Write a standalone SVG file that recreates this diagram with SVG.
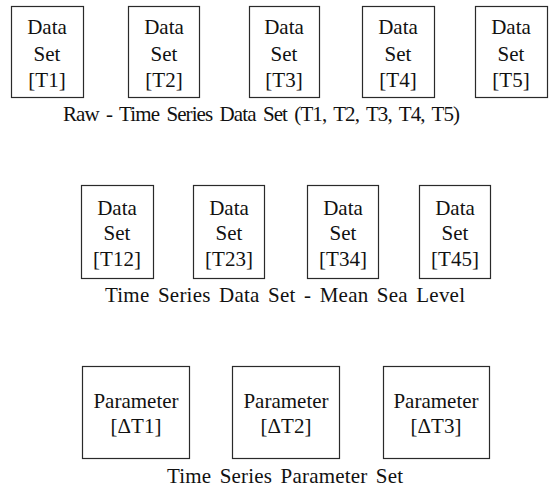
<svg xmlns="http://www.w3.org/2000/svg" width="551" height="489" viewBox="0 0 551 489">
<style>
.box{fill:#fff;stroke:#2a2a2a;stroke-width:1.2}
.t{font-family:"Liberation Serif","Times New Roman",serif;font-size:21px;fill:#111;text-anchor:middle}
.cap{font-family:"Liberation Serif","Times New Roman",serif;font-size:21px;fill:#111;word-spacing:3px}
</style>
<rect width="551" height="489" fill="#fff"/>
<g id="connectors"/>
<g id="T1"><rect class="box" x="11.5" y="6.5" width="72" height="91"/><text class="t" x="47" y="34">Data</text><text class="t" x="47" y="61">Set</text><text class="t" x="47" y="87">[T1]</text></g>
<g id="T2"><rect class="box" x="128.5" y="6.5" width="71" height="91"/><text class="t" x="164" y="34">Data</text><text class="t" x="164" y="61">Set</text><text class="t" x="164" y="87">[T2]</text></g>
<g id="T3"><rect class="box" x="249.5" y="6.5" width="70" height="91"/><text class="t" x="284" y="34">Data</text><text class="t" x="284" y="61">Set</text><text class="t" x="284" y="87">[T3]</text></g>
<g id="T4"><rect class="box" x="362.5" y="6.5" width="72" height="91"/><text class="t" x="398" y="34">Data</text><text class="t" x="398" y="61">Set</text><text class="t" x="398" y="87">[T4]</text></g>
<g id="T5"><rect class="box" x="475.5" y="6.5" width="72" height="91"/><text class="t" x="511" y="34">Data</text><text class="t" x="511" y="61">Set</text><text class="t" x="511" y="87">[T5]</text></g>
<text class="cap" x="63" y="121" textLength="397" lengthAdjust="spacing">Raw - Time Series Data Set (T1, T2, T3, T4, T5)</text>

<g id="T12"><rect class="box" x="81.5" y="185.5" width="72" height="93"/><text class="t" x="117" y="215">Data</text><text class="t" x="117" y="240">Set</text><text class="t" x="117" y="266">[T12]</text></g>
<g id="T23"><rect class="box" x="193.5" y="185.5" width="71" height="93"/><text class="t" x="229" y="215">Data</text><text class="t" x="229" y="240">Set</text><text class="t" x="229" y="266">[T23]</text></g>
<g id="T34"><rect class="box" x="307.5" y="185.5" width="71" height="93"/><text class="t" x="343" y="215">Data</text><text class="t" x="343" y="240">Set</text><text class="t" x="343" y="266">[T34]</text></g>
<g id="T45"><rect class="box" x="419.5" y="185.5" width="71" height="93"/><text class="t" x="455" y="215">Data</text><text class="t" x="455" y="240">Set</text><text class="t" x="455" y="266">[T45]</text></g>
<text class="cap" x="105" y="302" textLength="360" lengthAdjust="spacing">Time Series Data Set - Mean Sea Level</text>

<g id="P1"><rect class="box" x="82.5" y="366.5" width="107" height="92"/><text class="t" x="136" y="408">Parameter</text><text class="t" x="136" y="433">[ΔT1]</text></g>
<g id="P2"><rect class="box" x="232.5" y="366.5" width="107" height="92"/><text class="t" x="286" y="408">Parameter</text><text class="t" x="286" y="433">[ΔT2]</text></g>
<g id="P3"><rect class="box" x="383.5" y="366.5" width="106" height="92"/><text class="t" x="436" y="408">Parameter</text><text class="t" x="436" y="433">[ΔT3]</text></g>
<text class="cap" x="167" y="483" textLength="236" lengthAdjust="spacing">Time Series Parameter Set</text>
</svg>
